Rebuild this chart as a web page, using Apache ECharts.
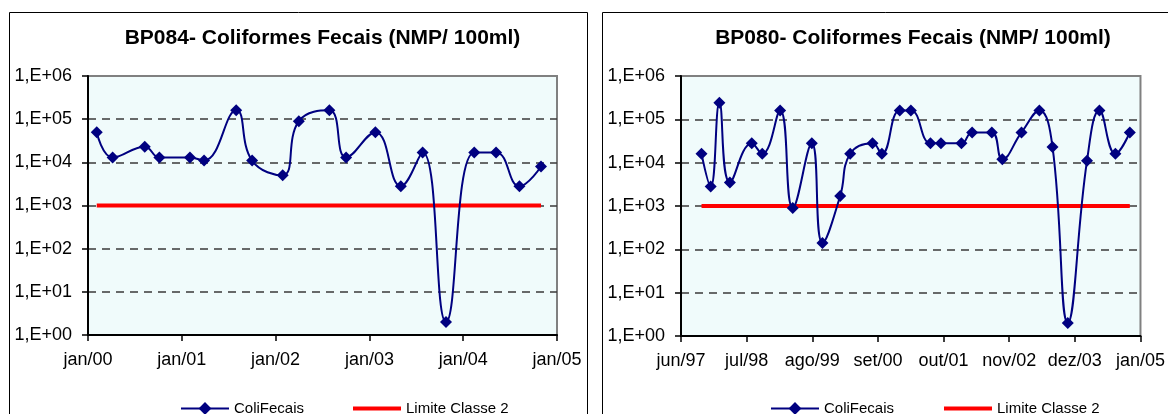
<!DOCTYPE html>
<html><head><meta charset="utf-8">
<script src="https://cdn.jsdelivr.net/npm/echarts@6/dist/echarts.min.js"></script>
<style>html,body{margin:0;padding:0;background:#fff;}#c{width:1168px;height:414px;}</style>
</head><body><div id="c"></div>
<script>
// ---- data ----
const bp084Title = 'BP084- Coliformes Fecais (NMP/ 100ml)';
const bp080Title = 'BP080- Coliformes Fecais (NMP/ 100ml)';
const seriesNames = ['ColiFecais', 'Limite Classe 2'];
const limiteClasse2 = 1000;

const bp084Dates = ['2000-02-04','2000-04-06','2000-08-09','2000-10-05','2001-02-01','2001-03-28','2001-07-31','2001-10-01','2002-01-28','2002-04-01','2002-07-29','2002-10-02','2003-01-24','2003-05-03','2003-07-27','2003-10-26','2004-02-13','2004-05-08','2004-08-07','2004-10-30'];
const bp084Values = [5e4,1.3e4,2.3e4,1.3e4,1.3e4,1.1e4,1.6e5,1.1e4,5e3,9e4,1.6e5,1.3e4,5e4,2.8e3,1.7e4,2,1.7e4,1.7e4,2.8e3,8e3];

const bp080Dates = ['1997-10-04','1997-11-29','1998-01-21','1998-03-26','1998-08-06','1998-10-09','1999-01-26','1999-04-13','1999-08-07','1999-10-11','2000-01-27','2000-03-28','2000-08-11','2000-10-07','2001-01-24','2001-04-02','2001-07-30','2001-10-02','2002-02-04','2002-04-10','2002-08-08','2002-10-11','2003-02-05','2003-05-25','2003-08-13','2003-11-14','2004-03-10','2004-05-25','2004-08-30','2004-11-26'];
const bp080Values = [1.6e4,2.8e3,2.4e5,3.5e3,2.8e4,1.6e4,1.6e5,9e2,2.8e4,1.4e2,1.7e3,1.6e4,2.8e4,1.6e4,1.6e5,1.6e5,2.8e4,2.8e4,2.8e4,5e4,5e4,1.2e4,5e4,1.6e5,2.3e4,2,1.1e4,1.6e5,1.6e4,5e4];

const bp084XTickLabels = ['jan/00','jan/01','jan/02','jan/03','jan/04','jan/05'];
const bp080XTickLabels = ['jun/97','jul/98','ago/99','set/00','out/01','nov/02','dez/03','jan/05'];
const yTickLabels = ['1,E+00','1,E+01','1,E+02','1,E+03','1,E+04','1,E+05','1,E+06'];

// ---- helpers ----
const DAY = 86400000;
function toUTC(s){ const p = s.split('-').map(Number); return Date.UTC(p[0], p[1]-1, p[2]); }
function dayOffsets(dates, base){ const b = toUTC(base); return dates.map(d => (toUTC(d) - b) / DAY); }
const bp084X = dayOffsets(bp084Dates, '2000-01-01');
const bp080X = dayOffsets(bp080Dates, '1997-06-01');
const pairs = (xs, ys) => xs.map((x, i) => [x, ys[i]]);

const FONT = 'Liberation Sans, Arial, sans-serif';
const navy = '#000080';
const red = '#FF0000';

function xAxis(gridIndex, max, interval, labels){
  return {
    type: 'value', gridIndex, min: 0, max, interval,
    axisLine: {show: true, onZero: false, lineStyle: {color: '#000', width: 2}},
    axisTick: {show: true, length: 6, lineStyle: {color: '#000', width: 1.5}},
    axisLabel: {margin: 16, color: '#000', fontSize: 18, fontFamily: FONT,
      formatter: v => labels[Math.round(v / interval)] || ''},
    splitLine: {show: false}
  };
}
function yAxis(gridIndex){
  return {
    type: 'log', logBase: 10, gridIndex, min: 1, max: 1e6,
    axisLine: {show: true, lineStyle: {color: '#000', width: 2}},
    axisTick: {show: true, length: 6, lineStyle: {color: '#000', width: 1.5}},
    axisLabel: {margin: 16, color: '#000', fontSize: 18, fontFamily: FONT,
      formatter: v => yTickLabels[Math.round(Math.log10(v))]},
    splitLine: {show: true, showMinLine: false, showMaxLine: false,
      lineStyle: {color: '#3a3a3a', width: 1.5, type: [8, 6]}},
    minorTick: {show: false}
  };
}
function coliSeries(idx, xs, ys){
  return {
    type: 'line', name: seriesNames[0], xAxisIndex: idx, yAxisIndex: idx,
    data: pairs(xs, ys), smooth: 0.45, symbol: 'diamond', symbolSize: 12,
    lineStyle: {color: navy, width: 2}, itemStyle: {color: navy}, z: 4
  };
}
function limitSeries(idx, xs){
  return {
    type: 'line', name: seriesNames[1], xAxisIndex: idx, yAxisIndex: idx,
    data: [[xs[0], limiteClasse2], [xs[xs.length-1], limiteClasse2]],
    symbol: 'none', lineStyle: {color: red, width: 4}, itemStyle: {color: red}, z: 3
  };
}
function coliLegend(left){
  return {data: [seriesNames[0]], left, top: 401, padding: 0, itemWidth: 48, itemHeight: 16,
    textStyle: {fontSize: 15, fontFamily: FONT, color: '#000'}};
}
function limitLegend(left){
  return {data: [{name: seriesNames[1], icon: 'rect'}], left, top: 401, padding: 0, itemWidth: 48, itemHeight: 4,
    itemStyle: {color: red}, textStyle: {fontSize: 15, fontFamily: FONT, color: '#000'}};
}
function titleText(text, cx){
  return {type: 'text', x: cx, y: 38, z: 10,
    style: {text, fontSize: 21, fontWeight: 'bold', fontFamily: FONT, fill: '#000',
      align: 'center', verticalAlign: 'middle'}};
}

const chart = echarts.init(document.getElementById('c'));
chart.setOption({
  animation: false,
  backgroundColor: '#fff',
  graphic: [
    {type: 'rect', shape: {x: 9.5, y: 12.5, width: 578, height: 430}, style: {fill: null, stroke: '#000', lineWidth: 1}, silent: true},
    {type: 'rect', shape: {x: 602.5, y: 12.5, width: 600, height: 430}, style: {fill: null, stroke: '#000', lineWidth: 1}, silent: true},
    titleText(bp084Title, 322.5),
    titleText(bp080Title, 913)
  ],
  grid: [
    {left: 88, top: 76, width: 469, height: 259, show: true, backgroundColor: '#F0FBFB', borderColor: '#808080', borderWidth: 2},
    {left: 681, top: 76, width: 464, height: 260, show: true, backgroundColor: '#F0FBFB', borderColor: '#808080', borderWidth: 2}
  ],
  xAxis: [xAxis(0, 1826.25, 365.25, bp084XTickLabels), xAxis(1, 2800, 400, bp080XTickLabels)],
  yAxis: [yAxis(0), yAxis(1)],
  legend: [coliLegend(180), limitLegend(353), coliLegend(770), limitLegend(944)],
  series: [
    limitSeries(0, bp084X), coliSeries(0, bp084X, bp084Values),
    limitSeries(1, bp080X), coliSeries(1, bp080X, bp080Values)
  ]
});
</script></body></html>
